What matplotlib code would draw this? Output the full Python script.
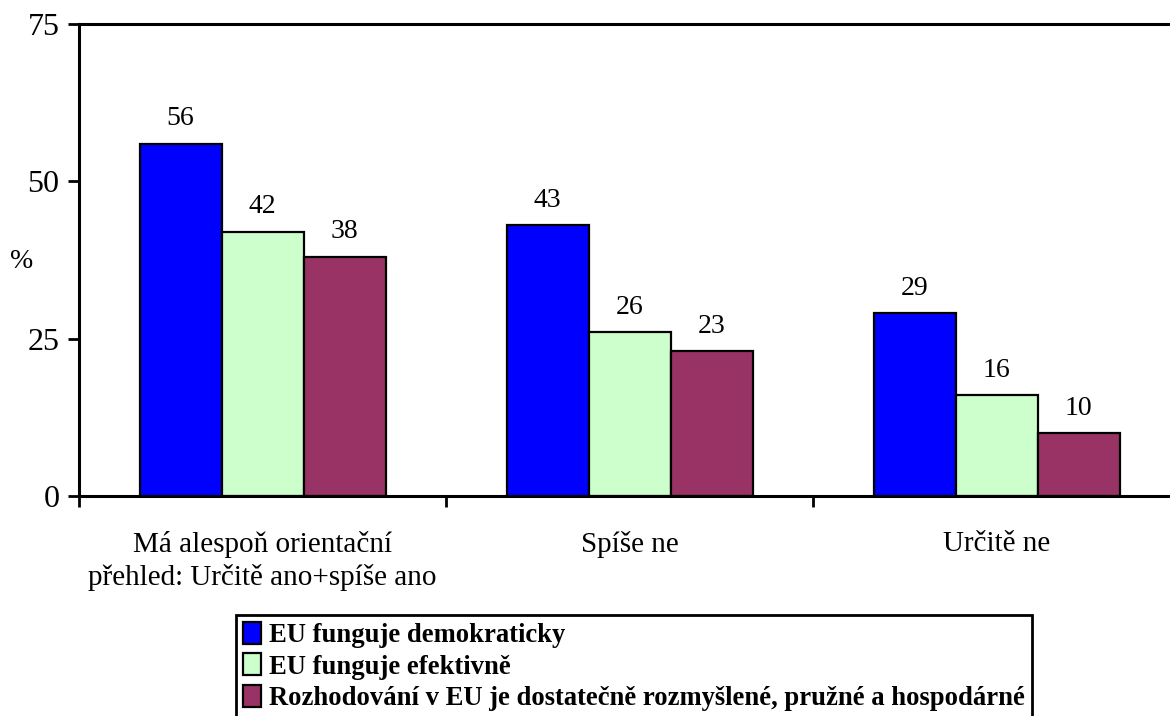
import matplotlib
matplotlib.use("Agg")
import matplotlib.pyplot as plt
import numpy as np

categories = ["Má alespoň orientační\npřehled: Určitě ano+spíše ano", "Spíše ne", "Určitě ne"]
series_names = ["EU funguje demokraticky", "EU funguje efektivně",
                "Rozhodování v EU je dostatečně rozmyšlené, pružné a hospodárné"]
demokraticky = [56, 43, 29]
efektivne = [42, 26, 16]
rozhodovani = [38, 23, 10]
yticks = [0, 25, 50, 75]
colors = ["#0000FF", "#CCFFCC", "#993366"]

plt.rcParams['font.family'] = ['Liberation Serif', 'DejaVu Serif']

W, H = 1170, 716
fig = plt.figure(figsize=(W / 100, H / 100), dpi=100)
left, right = 79 / W, 1180 / W
bottom, top = 1 - 496 / H, 1 - 24 / H
ax = fig.add_axes([left, bottom, right - left, top - bottom])

x = np.arange(len(categories))
bw = 82 / 367
series = [demokraticky, efektivne, rozhodovani]
for i, (vals, c, name) in enumerate(zip(series, colors, series_names)):
    bars = ax.bar(x + (i - 1) * bw, vals, bw, color=c, edgecolor='black', linewidth=1.6, label=name)
    for b, v in zip(bars, vals):
        ax.annotate(str(v), (b.get_x() + b.get_width() / 2, v), xytext=(0, 9),
                    textcoords='offset points', ha='center', va='bottom', fontsize=20)

ax.set_xlim(-0.5, len(categories) - 0.5)
ax.set_ylim(0, 75)
ax.set_yticks(yticks)
ax.set_yticklabels([str(t) for t in yticks], fontsize=23)
ax.set_xticks(x)
ax.set_xticklabels(categories, fontsize=21, linespacing=1.3)
ax.tick_params(axis='x', which='major', length=0, pad=25)
ax.set_xticks(np.arange(-0.5, len(categories)), minor=True)
ax.tick_params(axis='x', which='minor', length=8, width=2, direction='out')
ax.tick_params(axis='y', length=8, width=2, direction='out', pad=6)
for s in ['left', 'bottom', 'top']:
    ax.spines[s].set_linewidth(2.2)
ax.spines['right'].set_visible(False)

fig.text(22 / W, 1 - 262 / H, "%", fontsize=20, ha='center', va='center')

leg = fig.legend(loc='upper left', bbox_to_anchor=(236 / W, 1 - 615 / H), borderaxespad=0,
                 prop={'weight': 'bold', 'size': 19.2}, frameon=True, fancybox=False,
                 edgecolor='black', framealpha=1, handlelength=0.7, handleheight=0.9,
                 handletextpad=0.3, labelspacing=0.2, borderpad=0.25)
leg.get_frame().set_linewidth(2)

fig.savefig("out.png", dpi=100)
